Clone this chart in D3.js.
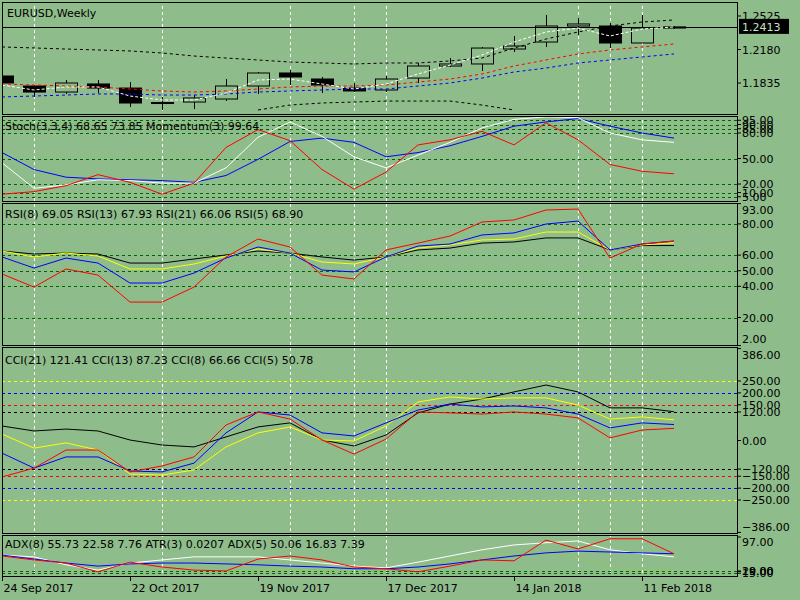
<!DOCTYPE html>
<html><head><meta charset="utf-8">
<script src="https://cdn.jsdelivr.net/npm/d3@7"></script>
<style>body{margin:0;background:#8fbc8b}svg{display:block}text{font-family:"DejaVu Sans",sans-serif;font-size:11px}</style>
</head><body><svg id="c" width="800" height="600"></svg>
<script>
const dates=["24 Sep 2017","22 Oct 2017","19 Nov 2017","17 Dec 2017","14 Jan 2018","11 Feb 2018"];
const dateIdx=[0,4,8,12,16,20];
const gridIdx=[1,5,9,11,12,18,19,20];
const open_ =[1.1907,1.1804,1.1742,1.1825,1.1783,1.1629,1.1639,1.1670,1.1804,1.1938,1.1876,1.1783,1.1763,1.1886,1.2010,1.2031,1.2185,1.2257,1.2422,1.2422,1.2247,1.2401];
const high_ =[1.1917,1.1814,1.1866,1.1866,1.1845,1.1691,1.1711,1.1876,1.1948,1.1969,1.1897,1.1835,1.1907,1.2041,1.2092,1.2206,1.2319,1.2535,1.2504,1.2453,1.2535,1.2422];
const low_  =[1.1835,1.1691,1.1722,1.1732,1.1588,1.1557,1.1567,1.1650,1.1722,1.1814,1.1732,1.1742,1.1742,1.1835,1.2000,1.1959,1.2154,1.2206,1.2329,1.2195,1.2247,1.2391];
const close_=[1.1835,1.1742,1.1835,1.1783,1.1629,1.1634,1.1681,1.1804,1.1938,1.1897,1.1814,1.1753,1.1876,1.2010,1.2031,1.2195,1.2216,1.2422,1.2443,1.2247,1.2401,1.2413];
const lastPrice=1.2413;
const priceTicks=[1.2525,1.2180,1.1835];
// overlays (price)
const envUpper=[1.2206,1.2196,1.2185,1.2175,1.2165,1.2144,1.2113,1.2092,1.2072,1.2051,1.2041,1.2031,1.2041,1.2041,1.2062,1.2092,1.2195,1.2288,1.2360,1.2422,1.2463,1.2484];
const envLower=[null,null,null,null,null,null,null,null,1.1557,1.1608,1.1629,1.1639,1.1649,1.1649,1.1649,1.1608,1.1557,null,null,null,null,null];
const maRed =[1.1825,1.1814,1.1804,1.1794,1.1773,1.1753,1.1742,1.1753,1.1773,1.1794,1.1804,1.1804,1.1814,1.1845,1.1876,1.1928,1.2010,1.2072,1.2134,1.2175,1.2206,1.2237];
const maBlue=[1.1691,1.1701,1.1711,1.1722,1.1722,1.1711,1.1711,1.1722,1.1742,1.1753,1.1763,1.1773,1.1773,1.1804,1.1835,1.1886,1.1948,1.1989,1.2041,1.2072,1.2103,1.2134];
const maWhite=[1.1814,1.1763,1.1794,1.1794,1.1701,1.1660,1.1660,1.1732,1.1866,1.1876,1.1825,1.1773,1.1825,1.1928,1.2020,1.2123,1.2257,1.2360,1.2401,1.2319,1.2391,1.2412];
// Stoch / Momentum
const stochTicks=[95,90,85,80,50,20,10,5];
const stochMain=[45,15,19,25,24,21,21,39,75,93,76,52,39,54,69,86,96,99,98,80,72,69];
const stochSig =[57,37,28,26,25,24,22,30,49,70,74,69,52,57,65,76,88,93,97,88,80,74];
const momentum =[8,11,18,31,22,8,21,63,84,71,37,14,34,66,72,82,66,92,72,43,35,32];
// RSI
const rsiTicks=[93,80,60,50,40,20,2];
const rsiGrid=[80,60,50,40,20];
const rsi21=[62.6,60.7,61.3,60.7,54.9,54.9,57.5,60.1,62.6,61.3,58.8,56.8,58.8,63.3,64.5,67.7,68.4,71.0,71.0,63.3,66.1,66.1];
const rsi13=[62.6,58.8,61.3,59.4,51.1,51.1,54.3,59.4,63.9,61.3,55.6,54.3,58.8,64.5,66.5,69.7,70.3,74.8,74.8,63.3,66.5,67.9];
const rsi8 =[58.8,51.7,58.1,54.9,42.1,42.1,48.5,58.1,65.2,61.3,50.4,49.2,58.8,65.8,67.1,72.9,74.2,79.9,81.8,63.3,67.1,69.05];
const rsi5 =[47.9,39.5,51.1,47.2,29.9,29.9,39.5,58.8,70.3,65.2,47.2,44.7,63.3,67.7,72.2,81.2,82.5,88.9,89.5,58.1,67.1,68.9];
// CCI
const cciTicks=[386,250,200,150,120,0,-120,-150,-200,-250,-386];
const cciLevels=[[250,"#ffff00"],[200,"#0000ff"],[150,"#ff0000"],[120,"#000000"]];
const cci21=[61,40,48,40,2,-19,-27,15,57,74,2,-23,23,116,153,174,204,233,204,137,137,121];
const cci13=[27,-32,-10,-40,-141,-145,-124,-27,32,57,2,-2,61,162,183,174,179,179,149,90,99,87];
const cci8 =[-53,-116,-69,-69,-128,-132,-95,32,120,107,32,19,74,128,153,141,145,137,111,53,74,67];
const cci5 =[-153,-116,-40,-40,-132,-107,-69,65,120,90,2,-57,6,120,116,111,120,111,95,11,44,51];
// ADX / ATR
const adxTicks=[97,20,19,15];
const adxGrid=[20,15];
const adxA=[56,52,34,22,38,45,52,52,52,45,38,31,27,40,54,68,79,84,88,68,59,52];
const adxB=[56,47,38,31,36,38,38,36,34,31,29,25,25,29,36,45,54,61,65,63,61,59];
const adxC=[54,45,38,18,40,29,22,20,47,54,45,29,25,18,31,45,43,90,70,93,93,59];
const adxD=[null,null,null,null,null,null,null,20,22,22,20,18,22,31,45,54,59,59,50,31,22,20];

const svg=d3.select("#c");
const X0=2,X1=737;
const x=d3.scaleLinear().domain([0,21]).range([2,674]);
const panels={main:[2,114],stoch:[116,201],rsi:[203,345],cci:[347,533],adx:[535,576]};
const yMain=d3.scaleLinear().domain([1.1835,1.2525]).range([83,16]);
const ySt=d3.scaleLinear().domain([0,100]).range([201,116]);
const yRsi=d3.scaleLinear().domain([2,93]).range([345.6,203.6]);
const yCci=d3.scaleLinear().domain([-386,386]).range([532.4,348.6]);
const yAdx=d3.scaleLinear().domain([0,97]).range([579.8,537]);

Object.entries(panels).forEach(([k,[t,b]])=>{
  const cp=svg.append("clipPath").attr("id","cl"+k);
  cp.append("rect").attr("x",X0).attr("y",t).attr("width",X1-X0).attr("height",b-t);
});
function g(k){return svg.append("g").attr("clip-path","url(#cl"+k+")");}
function hgrid(k,ys,color){const G=g(k);ys.forEach(yv=>G.append("line").attr("x1",X0).attr("x2",X1).attr("y1",Math.round(yv)+0.5).attr("y2",Math.round(yv)+0.5).attr("stroke",color).attr("stroke-dasharray","3,3"));}
function line(k,data,ys,color,dash){
  const G=g(k);
  G.append("path").attr("d",d3.line().defined(d=>d!=null).x((d,i)=>x(i)).y(d=>ys(d))(data))
   .attr("fill","none").attr("stroke",color).attr("stroke-width",1).attr("stroke-dasharray",dash||null);
}
function ticks(vals,ys,fmt,clampT,clampB){
  vals.forEach(v=>{const yy=ys(v);
    svg.append("line").attr("x1",X1).attr("x2",X1+4).attr("y1",yy).attr("y2",yy).attr("stroke","#000");
    let ty=Math.max(clampT,Math.min(clampB,yy));
    svg.append("text").attr("x",X1+5).attr("y",ty+4).text(fmt(v));
  });
}
// vertical grids
Object.keys(panels).forEach(k=>{const G=g(k);gridIdx.forEach(i=>G.append("line").attr("x1",Math.round(x(i))+0.5).attr("x2",Math.round(x(i))+0.5).attr("y1",0).attr("y2",600).attr("stroke","#fff").attr("stroke-dasharray","3,3"));});

// main
const Gm=g("main");
line("main",envUpper,yMain,"#000","3,3");
line("main",envLower,yMain,"#000","3,3");
line("main",maRed,yMain,"#ff0000","3,3");
line("main",maBlue,yMain,"#0000ff","3,3");
open_.forEach((o,i)=>{
  const c=close_[i],cx=Math.round(x(i))+0.5;
  Gm.append("line").attr("x1",cx).attr("x2",cx).attr("y1",yMain(high_[i])).attr("y2",yMain(low_[i])).attr("stroke","#000");
  const top=yMain(Math.max(o,c)),bot=yMain(Math.min(o,c));
  Gm.append("rect").attr("x",cx-11).attr("width",22).attr("y",top).attr("height",Math.max(1,bot-top))
    .attr("fill",c<o?"#000":"#8fbc8b").attr("stroke","#000");
});
line("main",maWhite,yMain,"#fff","3,2");
Gm.append("line").attr("x1",X0).attr("x2",X1).attr("y1",Math.round(yMain(lastPrice))+0.5).attr("y2",Math.round(yMain(lastPrice))+0.5).attr("stroke","#000");
svg.append("text").attr("x",7).attr("y",17).text("EURUSD,Weekly");
ticks(priceTicks,yMain,d3.format(".4f"),0,600);
const ly=yMain(lastPrice);
svg.append("rect").attr("x",X1+2).attr("y",ly-8).attr("width",50).attr("height",15).attr("fill","#000");
svg.append("text").attr("x",X1+5).attr("y",ly+4).attr("fill","#c8e0c8").text(lastPrice.toFixed(4));

// stoch
hgrid("stoch",stochTicks.map(ySt),"#006400");
line("stoch",stochSig,ySt,"#0000ff");
line("stoch",stochMain,ySt,"#fff");
line("stoch",momentum,ySt,"#ff0000");
svg.append("text").attr("x",5).attr("y",130).text("Stoch(3,3,4) 68.65 73.85 Momentum(3) 99.64");
ticks(stochTicks,ySt,d3.format(".2f"),0,600);

// rsi
hgrid("rsi",rsiGrid.map(yRsi),"#006400");
line("rsi",rsi21,yRsi,"#000");
line("rsi",rsi13,yRsi,"#ffff00");
line("rsi",rsi8,yRsi,"#0000ff");
line("rsi",rsi5,yRsi,"#ff0000");
svg.append("text").attr("x",5).attr("y",218).text("RSI(8) 69.05 RSI(13) 67.93 RSI(21) 66.06 RSI(5) 68.90");
ticks(rsiTicks,yRsi,d3.format(".2f"),210,339);

// cci
cciLevels.forEach(([v,c])=>hgrid("cci",[yCci(v),yCci(-v)],c));
line("cci",cci21,yCci,"#000");
line("cci",cci13,yCci,"#ffff00");
line("cci",cci8,yCci,"#0000ff");
line("cci",cci5,yCci,"#ff0000");
svg.append("text").attr("x",5).attr("y",364).text("CCI(21) 121.41 CCI(13) 87.23 CCI(8) 66.66 CCI(5) 50.78");
ticks(cciTicks,yCci,d3.format(".2f"),355,527);

// adx
hgrid("adx",adxGrid.map(yAdx),"#006400");
line("adx",adxD,yAdx,"#9acd32","2,2");
line("adx",adxA,yAdx,"#fff");
line("adx",adxB,yAdx,"#0000ff");
line("adx",adxC,yAdx,"#ff0000");
svg.append("text").attr("x",5).attr("y",548).text("ADX(8) 55.73 22.58 7.76 ATR(3) 0.0207 ADX(5) 50.06 16.83 7.39");
ticks(adxTicks,yAdx,d3.format(".2f"),542,600);

// panel frames
Object.values(panels).forEach(([t,b])=>svg.append("rect").attr("x",X0+0.5).attr("y",t+0.5).attr("width",X1-X0).attr("height",b-t).attr("fill","none").attr("stroke","#000"));
// date axis
dateIdx.forEach((i,j)=>{const xx=Math.round(x(i))+0.5;
  svg.append("line").attr("x1",xx).attr("x2",xx).attr("y1",576).attr("y2",581).attr("stroke","#000");
  svg.append("text").attr("x",xx+1).attr("y",592).text(dates[j]);});
</script></body></html>
